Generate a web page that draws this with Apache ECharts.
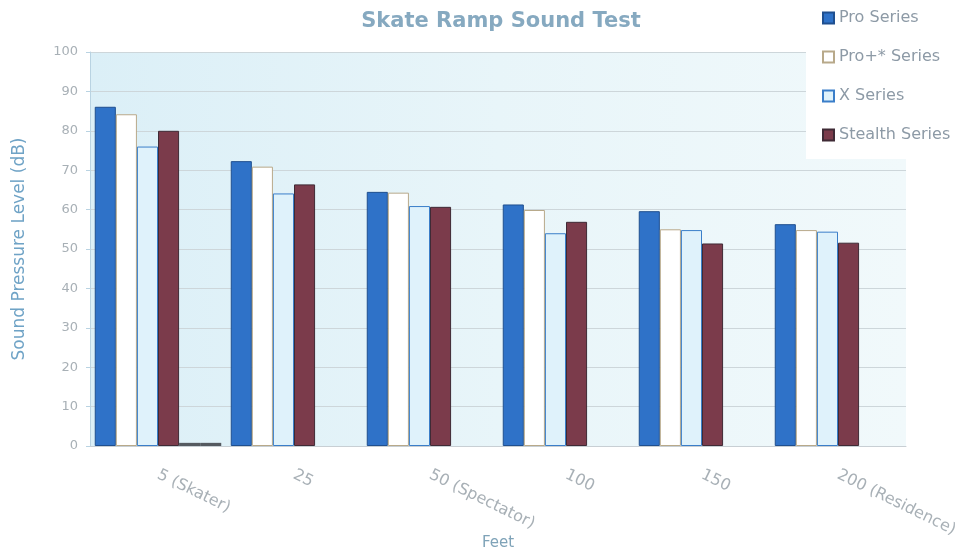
<!DOCTYPE html>
<html>
<head>
<meta charset="utf-8">
<script src="https://cdn.jsdelivr.net/npm/echarts@6/dist/echarts.min.js"></script>
<style>html,body{margin:0;padding:0;background:#fff}#c{width:971px;height:556px}</style>
</head>
<body>
<div id="c"></div>
<script>
const categories = ['5 (Skater)', '25', '50 (Spectator)', '100', '150', '200 (Residence)'];
const proSeries = [86.1, 72.3, 64.5, 61.3, 59.6, 56.3];
const proPlusSeries = [84.2, 70.9, 64.3, 59.9, 55.0, 54.8];
const xSeries = [76.0, 64.1, 60.9, 54.0, 54.8, 54.4];
const stealthSeries = [80.0, 66.4, 60.7, 56.9, 51.4, 51.6];
const extraA = [0.8, '-', '-', '-', '-', '-'];
const extraB = [0.8, '-', '-', '-', '-', '-'];
const yTicks = [0, 10, 20, 30, 40, 50, 60, 70, 80, 90, 100];

const chart = echarts.init(document.getElementById('c'));
const font = 'DejaVu Sans, Verdana, sans-serif';
chart.setOption({
  animation: false,
  backgroundColor: '#fff',
  title: {
    text: 'Skate Ramp Sound Test', left: 496, top: 6, textAlign: 'center',
    textStyle: { fontFamily: font, fontSize: 21, fontWeight: 'bold', color: '#86a9c0' }
  },
  legend: {
    data: ['Pro Series', 'Pro+* Series', 'X Series', 'Stealth Series'],
    orient: 'vertical', left: 806, top: 2,
    backgroundColor: '#ffffff',
    padding: [8, 14, 16, 16],
    itemGap: 23, itemWidth: 11, itemHeight: 11, icon: 'rect',
    textStyle: { fontFamily: font, fontSize: 16, color: '#8d9aa6' }
  },
  grid: {
    left: 90, right: 65, top: 52, bottom: 110, show: true, borderWidth: 0,
    outerBoundsMode: 'none', containLabel: false,
    backgroundColor: new echarts.graphic.LinearGradient(0, 0, 1, 0, [
      { offset: 0, color: '#dbeff7' }, { offset: 0.5, color: '#e8f5f9' }, { offset: 1, color: '#f1f9fb' }
    ])
  },
  xAxis: {
    type: 'category', data: categories,
    name: 'Feet', nameLocation: 'middle', nameGap: 90, nameMoveOverlap: false,
    nameTextStyle: { fontFamily: font, fontSize: 15, color: '#7fa3b8' },
    axisLine: { lineStyle: { color: '#c8cfd4' } },
    axisTick: { show: false },
    axisLabel: { rotate: -26, margin: 28, fontFamily: font, fontSize: 16, color: '#a8b0b6' }
  },
  yAxis: {
    type: 'value', min: 0, max: 100, interval: 10,
    name: 'Sound Pressure Level (dB)', nameLocation: 'middle', nameGap: 62,
    nameTextStyle: { fontFamily: font, fontSize: 17, color: '#6fa3c6' },
    axisLine: { show: true, lineStyle: { color: '#b9d3e2' } },
    axisTick: { show: true, length: 4, lineStyle: { color: '#b9d3e2' } },
    splitLine: { lineStyle: { color: '#cdd6da', width: 1 } },
    axisLabel: {
      margin: 12, fontFamily: font, fontSize: 13, color: '#a8b0b6',
      formatter: v => yTicks.includes(v) ? String(v) : ''
    }
  },
  series: [
    { name: 'Pro Series', type: 'bar', data: proSeries, barGap: '0%', barCategoryGap: '7%',
      itemStyle: { color: '#2f72c8', borderColor: '#1f4f8f', borderWidth: 1 } },
    { name: 'Pro+* Series', type: 'bar', data: proPlusSeries,
      itemStyle: { color: '#ffffff', borderColor: '#b8a98a', borderWidth: 1 } },
    { name: 'X Series', type: 'bar', data: xSeries,
      itemStyle: { color: '#dff2fb', borderColor: '#3a7ec9', borderWidth: 1 } },
    { name: 'Stealth Series', type: 'bar', data: stealthSeries,
      itemStyle: { color: '#7b3b4b', borderColor: '#3f2a35', borderWidth: 1 } },
    { name: 'extraA', type: 'bar', data: extraA,
      itemStyle: { color: '#555a60' } },
    { name: 'extraB', type: 'bar', data: extraB,
      itemStyle: { color: '#555a60' } }
  ]
});
</script>
</body>
</html>
